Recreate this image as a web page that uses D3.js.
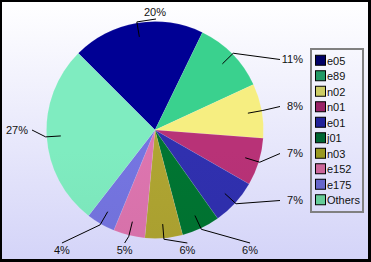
<!DOCTYPE html>
<html>
<head>
<meta charset="utf-8">
<script src="https://cdn.jsdelivr.net/npm/d3@7"></script>
<style>
  body { margin: 0; padding: 0; background: #fff; }
  svg { display: block; font-family: "Liberation Sans", Arial, sans-serif; }
</style>
</head>
<body>
<div id="chart"></div>
<script>
// data (percent of total)
const categories = ["e05", "e89", "n02", "n01", "e01", "j01", "n03", "e152", "e175", "Others"];
const shares = [19.7, 10.9, 8.1, 7.1, 6.9, 5.7, 5.6, 4.7, 4.3, 27.0];
const sliceColors = ["#00008e", "#38c888", "#ece47c", "#b03072", "#2e2ea8", "#007030", "#a89e30", "#d470a8", "#7070d8", "#7ae2b8"];
const swatchColors = ["#000066", "#229966", "#cccc66", "#992266", "#222299", "#006633", "#999922", "#cc6699", "#6666cc", "#66cc99"];

const width = 371, height = 262;
const cx = 155, cy = 130, radius = 108.5;

const svg = d3.select("#chart")
  .append("svg")
  .attr("width", width)
  .attr("height", height);

const defs = svg.append("defs");

// background
const bg = defs.append("linearGradient")
  .attr("id", "bg").attr("x1", 0).attr("y1", 0).attr("x2", 0).attr("y2", 1);
bg.append("stop").attr("offset", 0).attr("stop-color", "#ffffff");
bg.append("stop").attr("offset", 1).attr("stop-color", "#d4d4f8");

svg.append("rect").attr("width", width).attr("height", height).attr("fill", "#000");
svg.append("rect")
  .attr("x", 2).attr("y", 2)
  .attr("width", width - 5).attr("height", height - 5)
  .attr("fill", "url(#bg)");

// slice gradients, a little lighter at the top
sliceColors.forEach(function(c, i) {
  const g = defs.append("linearGradient")
    .attr("id", "sl" + i)
    .attr("gradientUnits", "userSpaceOnUse")
    .attr("x1", 0).attr("y1", cy - radius).attr("x2", 0).attr("y2", cy + radius);
  g.append("stop").attr("offset", 0).attr("stop-color", d3.color(c).brighter(0.12));
  g.append("stop").attr("offset", 1).attr("stop-color", d3.color(c).darker(0.1));
});

const data = categories.map((name, i) => ({name: name, value: shares[i], index: i}));

const start = -Math.PI / 4;
const pie = d3.pie()
  .sort(null)
  .value(d => d.value)
  .startAngle(start)
  .endAngle(start + 2 * Math.PI);

const arcs = pie(data);

const arc = d3.arc().innerRadius(0).outerRadius(radius);

const plot = svg.append("g")
  .attr("transform", "translate(" + cx + "," + cy + ")");

plot.selectAll("path.slice")
  .data(arcs)
  .enter().append("path")
  .attr("class", "slice")
  .attr("d", arc)
  .attr("fill", d => "url(#sl" + d.data.index + ")")
  .attr("stroke", "rgba(255,255,255,0.15)")
  .attr("stroke-width", 0.5);

// put each label on a side of the pie, spread evenly along that side
function midAngle(d) { return (d.startAngle + d.endAngle) / 2; }
function sideOf(d) {
  const a = midAngle(d) - start;   // 0 .. 2PI from the top-left diagonal
  if (a < Math.PI / 2) return "top";
  if (a < Math.PI) return "right";
  if (a < 3 * Math.PI / 2) return "bottom";
  return "left";
}

const sides = {top: [], right: [], bottom: [], left: []};
arcs.forEach(d => sides[sideOf(d)].push(d));

const labels = [];
Object.keys(sides).forEach(function(side) {
  const list = sides[side];
  const n = list.length;
  list.forEach(function(d, i) {
    const k = i - (n - 1) / 2;
    let end, text, anchor;
    if (side === "right") {
      end = [125, k * 47];
      text = [148, k * 47];
      anchor = "end";
    } else if (side === "bottom") {
      end = [-k * 62.7 + 1, 113];
      text = [-k * 62.7 + 1, 120];
      anchor = "middle";
    } else if (side === "left") {
      end = [-123, -k * 47];
      text = [-127, -k * 47];
      anchor = "end";
    } else {
      end = [k * 62.7 + 1, -111];
      text = [k * 62.7, -114];
      anchor = "middle";
    }
    labels.push({arc: d, end: end, text: text, anchor: anchor, side: side});
  });
});

const inner = d3.arc().innerRadius(radius * 0.87).outerRadius(radius * 0.87);
const edge = d3.arc().innerRadius(radius * 1.01).outerRadius(radius * 1.01);

plot.selectAll("polyline.lead")
  .data(labels)
  .enter().append("polyline")
  .attr("class", "lead")
  .attr("points", d => [inner.centroid(d.arc), edge.centroid(d.arc), d.end].join(" "))
  .attr("fill", "none")
  .attr("stroke", "#000")
  .attr("stroke-width", 1);

plot.selectAll("text.pct")
  .data(labels)
  .enter().append("text")
  .attr("class", "pct")
  .attr("x", d => d.text[0])
  .attr("y", d => d.text[1])
  .attr("dy", d => d.side === "top" ? "0em" : "0.35em")
  .attr("text-anchor", d => d.anchor)
  .attr("font-size", "11px")
  .attr("fill", "#111")
  .text(d => Math.round(d.arc.data.value) + "%");

// legend
const legend = svg.append("g").attr("transform", "translate(311,49)");
legend.append("rect")
  .attr("width", 52).attr("height", 163)
  .attr("fill", "none")
  .attr("stroke", "#808080")
  .attr("stroke-width", 2);

const row = d3.scaleBand()
  .domain(categories)
  .range([4, 159]);

const items = legend.selectAll("g.item")
  .data(categories)
  .enter().append("g")
  .attr("class", "item")
  .attr("transform", d => "translate(0," + (row(d) + row.bandwidth() / 2) + ")");

items.append("rect")
  .attr("x", 4.5).attr("y", -5.5)
  .attr("width", 10).attr("height", 10)
  .attr("fill", (d, i) => swatchColors[i])
  .attr("stroke", "#000")
  .attr("stroke-width", 1);

items.append("text")
  .attr("x", 16)
  .attr("dy", "0.35em")
  .attr("font-size", "11px")
  .attr("fill", "#111")
  .text(d => d);
</script>
</body>
</html>
